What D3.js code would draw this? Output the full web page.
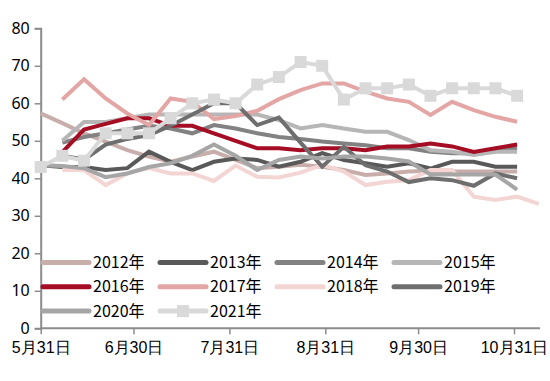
<!DOCTYPE html>
<html>
<head>
<meta charset="utf-8">
<script src="https://cdn.jsdelivr.net/npm/d3@7"></script>
<style>
  body { margin: 0; background: #fff; }
  svg { display: block; font-family: 'Noto Sans CJK SC', 'Noto Sans', sans-serif; }
</style>
</head>
<body>
<svg></svg>
<script>
// 每週資料點日期
const weeks = ['05-31', '06-07', '06-14', '06-21', '06-28', '07-05', '07-12', '07-19',
  '07-26', '08-02', '08-09', '08-16', '08-23', '08-30', '09-06', '09-13',
  '09-20', '09-27', '10-04', '10-11', '10-18', '10-25', '11-01', '11-08'];

const years = ['2012年', '2013年', '2014年', '2015年', '2016年',
  '2017年', '2018年', '2019年', '2020年', '2021年'];

const y2012 = [57.3, 54.7, 52, 49.8, 47.5, 45.8, 44.4, 45.8, 47.1, 44.9, 42.7, 43.1, 43.6, 43.1, 42.2, 40.9, 41.3, 41.8, 42, 41.8, 41.8, 41.8, 41.8, null];
const y2013 = [43.5, 43, 43, 42.2, 42.7, 47.1, 44.4, 42.2, 44.4, 45.3, 44.9, 43.1, 44.4, 46.7, 44.9, 44, 43.1, 44, 42.6, 44.4, 44.4, 43.1, 43.1, null];
const y2014 = [null, 49.5, 51, 52, 53, 54, 53.3, 52, 54.2, 53.3, 52, 51, 50.5, 49.8, 49.3, 48.8, 48, 48, 47.1, 46.7, 46.7, 47.5, 48, null];
const y2015 = [null, 50, 55, 55, 56, 57, 57, 57, 57, 57, 57, 55.5, 53.3, 54.2, 53.3, 52.4, 52.4, 50.2, 47.5, 47.1, 46.2, 47.1, 47.1, null];
const y2016 = [null, 47, 53, 54.5, 56, 56, 54, 54, 52, 50, 48, 48, 47.5, 48, 48, 47.5, 48.5, 48.5, 49.3, 48.5, 47, 48, 49, null];
const y2017 = [null, 61, 66.4, 61.3, 57.3, 54.2, 61.3, 60.4, 55.8, 56.6, 58, 61.1, 63.5, 65.3, 65.3, 63.1, 61.3, 60.4, 56.9, 60.4, 58.2, 56.4, 55.1, null];
const y2018 = [null, 42.2, 42.2, 38.2, 41.3, 42.7, 41.3, 41.3, 39.3, 43.4, 40.4, 40.2, 41.5, 43.6, 41.8, 38.2, 39.1, 39.5, 42.2, 42.2, 35.1, 34.2, 35.1, 33.2];
const y2019 = [null, 46, 45, 49, 50.5, 51.5, 54, 57, 60, 60, 54.2, 56.2, 49.5, 43.1, 48.4, 43.5, 41.8, 39, 40, 39.5, 38, 41.3, 40, null];
const y2020 = [43.5, 43.3, 42.7, 40.3, 41.3, 43, 44, 46, 49, 46, 42.2, 44.9, 45.8, 45.3, 45.8, 45.8, 45.3, 44.5, 41, 41, 41, 41, 37, null];
const y2021 = [43, 46, 44.7, 52, 52, 52, 56, 60, 61, 60, 65, 67, 71, 70, 61, 64, 64, 65, 62, 64, 64, 64, 62, null];

const seriesValues = [y2012, y2013, y2014, y2015, y2016, y2017, y2018, y2019, y2020, y2021];
const colors = ['#c8aeab', '#595959', '#828282', '#b6b6b6', '#a50d25',
  '#e3a6a4', '#f3d5d4', '#6e6e6e', '#a6a6a6', '#d9d9d9'];

const xTickDates = ['05-31', '06-30', '07-31', '08-31', '09-30', '10-31'];
const xTickLabels = ['5月31日', '6月30日', '7月31日', '8月31日', '9月30日', '10月31日'];
const yTicks = [0, 10, 20, 30, 40, 50, 60, 70, 80];

const parse = d3.timeParse('%Y-%m-%d');
const toDate = (s) => parse('2021-' + s);

var svg = d3.select('svg').attr('width', 550).attr('height', 381);

// 比例尺
const x = d3.scaleTime()
  .domain([toDate('05-31'), toDate('10-31')])
  .range([40.7, 514]);
const y = d3.scaleLinear().domain([0, 80]).range([328.3, 28.3]);

const axisColor = '#8c8c8c';

// Y 軸
const yAxis = svg.append('g')
  .attr('transform', 'translate(40.7,0)')
  .call(d3.axisLeft(y).tickValues(yTicks).tickSize(6).tickPadding(5));
yAxis.select('.domain').attr('stroke', axisColor).attr('stroke-width', 2);
yAxis.selectAll('.tick line').attr('stroke', axisColor).attr('stroke-width', 1.5);
yAxis.selectAll('.tick text')
  .attr('font-size', '16px')
  .attr('fill', '#000')
  .style('font-family', "'Noto Sans', sans-serif");

// X 軸
const xAxis = svg.append('g')
  .attr('transform', 'translate(0,328.3)')
  .call(d3.axisBottom(x)
    .tickValues(xTickDates.map(toDate))
    .tickFormat((d, i) => xTickLabels[i])
    .tickSize(6)
    .tickSizeOuter(0)
    .tickPadding(7));
xAxis.select('.domain')
  .attr('d', `M40.7,0H540`)
  .attr('stroke', axisColor)
  .attr('stroke-width', 2);
xAxis.selectAll('.tick line').attr('stroke', axisColor).attr('stroke-width', 1.5);
xAxis.selectAll('.tick text').attr('font-size', '16px').attr('fill', '#000');

// 折線
const line = d3.line()
  .defined((d) => d != null)
  .x((d, i) => x(toDate(weeks[i])))
  .y((d) => y(d));

const plot = svg.append('g');
seriesValues.forEach((vals, k) => {
  plot.append('path')
    .datum(vals)
    .attr('d', line)
    .attr('fill', 'none')
    .attr('stroke', colors[k])
    .attr('stroke-width', 4)
    .attr('stroke-linejoin', 'miter');
});

// 2021 年方形標記
plot.selectAll('rect.mk')
  .data(y2021.map((v, i) => ({ v: v, i: i })).filter((d) => d.v != null))
  .enter()
  .append('rect')
  .attr('class', 'mk')
  .attr('x', (d) => x(toDate(weeks[d.i])) - 6)
  .attr('y', (d) => y(d.v) - 6)
  .attr('width', 12)
  .attr('height', 12)
  .attr('fill', colors[9]);

// 圖例
const legend = svg.append('g');
years.forEach((name, k) => {
  const col = k % 4;
  const row = Math.floor(k / 4);
  const lx = 43 + col * 117;
  const ly = 262.5 + row * 24.3;
  const item = legend.append('g').attr('transform', `translate(${lx},${ly})`);
  item.append('line')
    .attr('x1', 0).attr('x2', 46)
    .attr('y1', 0).attr('y2', 0)
    .attr('stroke', colors[k])
    .attr('stroke-width', 5)
    .attr('stroke-linecap', 'round');
  if (k === 9) {
    item.append('rect')
      .attr('x', 17).attr('y', -6)
      .attr('width', 12).attr('height', 12)
      .attr('fill', colors[k]);
  }
  item.append('text')
    .attr('x', 50)
    .attr('y', 0)
    .attr('dy', '0.35em')
    .attr('font-size', '16px')
    .attr('fill', '#000')
    .text(name);
});
</script>
</body>
</html>
